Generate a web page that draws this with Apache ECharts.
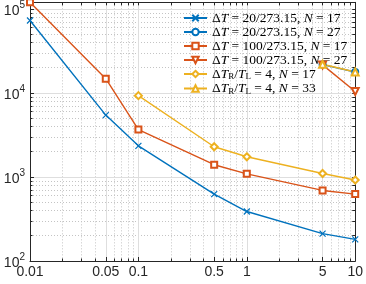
<!DOCTYPE html>
<html><head><meta charset="utf-8">
<script src="https://cdn.jsdelivr.net/npm/echarts@6/dist/echarts.min.js"></script>
<style>html,body{margin:0;padding:0;background:#fff}#c{width:366px;height:284px}</style>
</head><body><div id="c"></div>
<script>
const xValues = [0.01, 0.05, 0.1, 0.5, 1, 5, 10];
const dT20_N17 = [73000, 5460, 2350, 626, 388, 212, 181];
const dT20_N27 = [null, null, null, null, null, 21800, 17800];
const dT100_N17 = [120000, 14800, 3670, 1400, 1090, 692, 626];
const dT100_N27 = [null, null, null, null, null, 21600, 10400];
const ratio4_N17 = [null, null, 9300, 2290, 1740, 1100, 920];
const ratio4_N33 = [null, null, null, null, null, 22000, 17800];
const xTickLabels = [0.01, 0.05, 0.1, 0.5, 1, 5, 10];
const yTickLabels = [100, 1000, 10000, 100000];
const xMinor = [0.02,0.03,0.04,0.06,0.07,0.08,0.09,0.2,0.3,0.4,0.6,0.7,0.8,0.9,2,3,4,6,7,8,9];
const yMinor = [200,300,400,500,600,700,800,900,2000,3000,4000,5000,6000,7000,8000,9000,20000,30000,40000,50000,60000,70000,80000,90000];
const seriesNames = [
  '{m|Δ}{i|T}{m| = 20/273.15, }{i|N}{m| = 17}',
  '{m|Δ}{i|T}{m| = 20/273.15, }{i|N}{m| = 27}',
  '{m|Δ}{i|T}{m| = 100/273.15, }{i|N}{m| = 17}',
  '{m|Δ}{i|T}{m| = 100/273.15, }{i|N}{m| = 27}',
  '{m|Δ}{i|T}{s|R}{m|/}{i|T}{s|L}{m| = 4, }{i|N}{m| = 17}',
  '{m|Δ}{i|T}{s|R}{m|/}{i|T}{s|L}{m| = 4, }{i|N}{m| = 33}'
];
const BLUE = '#0072BD', RED = '#D95319', YEL = '#EDB120';
const pair = arr => xValues.map((x, i) => [x, arr[i]]).filter(p => p[1] != null);
const chart = echarts.init(document.getElementById('c'));
const fmtX = v => String(Number((+v).toPrecision(6)));
const fmtY = v => '{b|10}{s|' + Math.round(Math.log10(v)) + '}';
const serif = 'Liberation Serif';
function mk(name, data, color, symbol, size, rot) {
  return {
    name, type: 'line', data: pair(data), xAxisIndex: 0, yAxisIndex: 0,
    symbol, symbolSize: size, symbolRotate: rot || 0, showSymbol: true,
    lineStyle: { color, width: 1.4 },
    itemStyle: { color: color, borderColor: color, borderWidth: 1.2 },
    z: 5, animation: false
  };
}
const common = { type: 'log', logBase: 10, gridIndex: 0 };
chart.setOption({
  animation: false,
  grid: { left: 30, right: 10, top: 2, bottom: 23, containLabel: false },
  xAxis: [
    Object.assign({}, common, { position: 'bottom', min: 0.01, max: 10,
      axisLine: { show: true, lineStyle: { color: '#262626', width: 1 } },
      axisTick: { show: true, inside: true, length: 4, customValues: xTickLabels, lineStyle: { color: '#262626' } },
      axisLabel: { show: true, customValues: xTickLabels, formatter: fmtX, color: '#262626', fontFamily: 'Liberation Sans', fontSize: 14, margin: 4 },
      splitLine: { show: true, lineStyle: { color: '#dedede', width: 1 } }, z: 3 }),
    Object.assign({}, common, { position: 'bottom', min: 0.01, max: 10,
      axisLine: { show: false },
      axisTick: { show: true, inside: true, length: 2.5, customValues: xMinor, lineStyle: { color: '#262626' } },
      axisLabel: { show: false },
      splitLine: { show: true, lineStyle: { color: '#c4c4c4', width: 1, type: [1, 2] } }, z: 2 }),
    Object.assign({}, common, { position: 'top', min: 0.01, max: 10,
      axisLine: { show: true, lineStyle: { color: '#262626', width: 1 } },
      axisTick: { show: true, inside: true, length: 3, customValues: xTickLabels.concat(xMinor), lineStyle: { color: '#262626' } },
      axisLabel: { show: false }, splitLine: { show: false }, z: 3 })
  ],
  yAxis: [
    Object.assign({}, common, { position: 'left', min: 100, max: 120000,
      axisLine: { show: true, lineStyle: { color: '#262626', width: 1 } },
      axisTick: { show: true, inside: true, length: 4, customValues: yTickLabels, lineStyle: { color: '#262626' } },
      axisLabel: { show: true, customValues: yTickLabels, formatter: fmtY, margin: 5,
        rich: { b: { fontFamily: 'Liberation Sans', fontSize: 14, color: '#262626', padding: [4, 0, 0, 0] },
                s: { fontFamily: 'Liberation Sans', fontSize: 10, color: '#262626', verticalAlign: 'top', padding: [0, 0, 6, 0] } } },
      splitLine: { show: true, lineStyle: { color: '#dedede', width: 1 } }, z: 3 }),
    Object.assign({}, common, { position: 'left', min: 100, max: 120000,
      axisLine: { show: false },
      axisTick: { show: true, inside: true, length: 2.5, customValues: yMinor, lineStyle: { color: '#262626' } },
      axisLabel: { show: false },
      splitLine: { show: true, lineStyle: { color: '#c4c4c4', width: 1, type: [1, 2] } }, z: 2 }),
    Object.assign({}, common, { position: 'right', min: 100, max: 120000,
      axisLine: { show: true, lineStyle: { color: '#262626', width: 1 } },
      axisTick: { show: true, inside: true, length: 3, customValues: yTickLabels.concat(yMinor), lineStyle: { color: '#262626' } },
      axisLabel: { show: false }, splitLine: { show: false }, z: 3 })
  ],
  legend: {
    orient: 'vertical', left: 183, top: 11, itemWidth: 23, itemHeight: 8, itemGap: 0,
    padding: 0, backgroundColor: 'transparent',
    data: seriesNames,
    formatter: n => n,
    textStyle: {
      rich: {
        m: { fontFamily: serif, fontSize: 13.5, color: '#000', lineHeight: 15 },
        i: { fontFamily: serif, fontSize: 13.5, fontStyle: 'italic', color: '#000', lineHeight: 15 },
        s: { fontFamily: serif, fontSize: 9, color: '#000', verticalAlign: 'bottom', lineHeight: 10, padding: [5, 0, 0, 0] }
      }
    }
  },
  series: [
    mk(seriesNames[0], dT20_N17, BLUE, 'path://M0,0L10,10M10,0L0,10', 6),
    mk(seriesNames[1], dT20_N27, BLUE, 'emptyCircle', 6),
    mk(seriesNames[2], dT100_N17, RED, 'emptyRect', 6),
    mk(seriesNames[3], dT100_N27, RED, 'emptyTriangle', 7, 180),
    mk(seriesNames[4], ratio4_N17, YEL, 'emptyDiamond', 7),
    mk(seriesNames[5], ratio4_N33, YEL, 'emptyTriangle', 7)
  ]
});
</script></body></html>
